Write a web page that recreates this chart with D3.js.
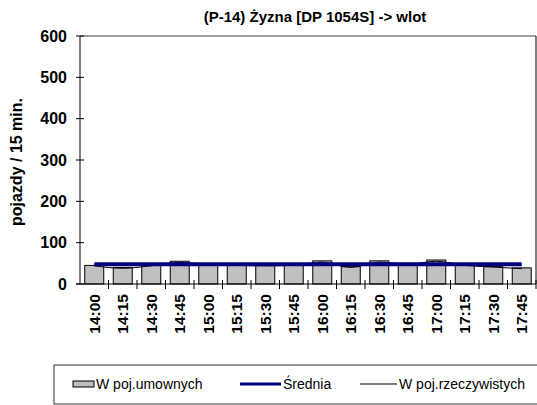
<!DOCTYPE html>
<html><head><meta charset="utf-8">
<script src="https://cdn.jsdelivr.net/npm/d3@7"></script>
<style>body{margin:0;background:#fff}svg{display:block}text{font-family:"Liberation Sans",Arial,sans-serif}</style>
</head><body>
<script>
const title = "(P-14) Żyzna [DP 1054S] -> wlot";
const categories = ["14:00","14:15","14:30","14:45","15:00","15:15","15:30","15:45","16:00","16:15","16:30","16:45","17:00","17:15","17:30","17:45"];
const umownych = [45,40,46,55,48,46,45,46,56,42,56,50,58,46,42,39];
const rzeczywistych = [44,38,44,52,47,45,44,45,53,40,53,48,55,45,41,37];
const srednia = 48;
const yTicks = [0,100,200,300,400,500,600];
const legendLabels = ["W poj.umownych","Średnia","W poj.rzeczywistych"];

const W=537,H=405;
const svg=d3.select("body").append("svg").attr("width",W).attr("height",H);
const L=80,R=536,T=36,B=284;
const x=d3.scaleBand().domain(categories).range([L,R]).paddingInner(1/3).paddingOuter(1/6);
const y=d3.scaleLinear().domain([0,600]).range([B,T]);

// title
svg.append("text").attr("x",315).attr("y",22).attr("text-anchor","middle")
  .attr("font-size",15).attr("font-weight","bold").text(title);

// frame
svg.append("line").attr("x1",L).attr("x2",R).attr("y1",T).attr("y2",T).attr("stroke","#808080").attr("stroke-width",1.5);
svg.append("line").attr("x1",R).attr("x2",R).attr("y1",T).attr("y2",B).attr("stroke","#000");

// bars
svg.selectAll("rect.bar").data(umownych).join("rect").attr("class","bar")
  .attr("x",(d,i)=>x(categories[i])).attr("width",x.bandwidth())
  .attr("y",d=>y(d)).attr("height",d=>B-y(d))
  .attr("fill","#c0c0c0").attr("stroke","#000").attr("stroke-width",1);

// actual line
const line=d3.line().x((d,i)=>x(categories[i])+x.bandwidth()/2).y(d=>y(d)).curve(d3.curveMonotoneX);
svg.append("path").attr("d",line(rzeczywistych)).attr("fill","none").attr("stroke","#000").attr("stroke-width",1);

// average line
const avg=categories.map(()=>srednia);
svg.append("path").attr("d",d3.line().x((d,i)=>x(categories[i])+x.bandwidth()/2).y(d=>y(d))(avg))
  .attr("fill","none").attr("stroke","#000080").attr("stroke-width",4);

// y axis
const yAxis=d3.axisLeft(y).tickValues(yTicks).tickSize(0).tickPadding(13);
const gy=svg.append("g").attr("transform",`translate(${L},0)`).call(yAxis);
gy.select(".domain").remove();
gy.selectAll("text").attr("font-size",16).attr("font-weight","bold").attr("font-family","Liberation Sans, Arial, sans-serif").attr("fill","#000");
svg.selectAll("line.yt").data(yTicks).join("line").attr("class","yt")
  .attr("x1",L-4).attr("x2",L+4).attr("y1",d=>y(d)).attr("y2",d=>y(d)).attr("stroke","#000");
svg.append("line").attr("x1",L).attr("x2",L).attr("y1",T).attr("y2",B).attr("stroke","#000");

// x axis
svg.append("line").attr("x1",L-4).attr("x2",R).attr("y1",B).attr("y2",B).attr("stroke","#000");
const bounds=d3.range(1,categories.length+1).map(i=>L+i*x.step());
svg.selectAll("line.xt").data(bounds).join("line").attr("class","xt")
  .attr("x1",d=>d).attr("x2",d=>d).attr("y1",B-4).attr("y2",B+5).attr("stroke","#000");
svg.selectAll("text.xl").data(categories).join("text").attr("class","xl")
  .attr("transform",d=>`translate(${x(d)+x.bandwidth()/2+5.5},294) rotate(-90)`)
  .attr("text-anchor","end").attr("font-size",15.5).attr("font-weight","bold").text(d=>d);

// y title
svg.append("text").attr("transform","translate(22,162) rotate(-90)").attr("text-anchor","middle")
  .attr("font-size",16).attr("font-weight","bold").text("pojazdy / 15 min.");

// legend
svg.append("rect").attr("x",54).attr("y",365).attr("width",520).attr("height",39)
  .attr("fill","none").attr("stroke","#333").attr("stroke-width",1);
const ly=384;
svg.append("rect").attr("x",73).attr("y",ly-3).attr("width",21).attr("height",6).attr("fill","#c0c0c0").attr("stroke","#000");
svg.append("line").attr("x1",240).attr("x2",281).attr("y1",ly).attr("y2",ly).attr("stroke","#000080").attr("stroke-width",3);
svg.append("line").attr("x1",360).attr("x2",397).attr("y1",ly).attr("y2",ly).attr("stroke","#000").attr("stroke-width",1);
const lx=[96,283,399];
svg.selectAll("text.lg").data(legendLabels).join("text").attr("class","lg")
  .attr("x",(d,i)=>lx[i]).attr("y",ly+5).attr("font-size",14).text(d=>d);
</script>
</body></html>
